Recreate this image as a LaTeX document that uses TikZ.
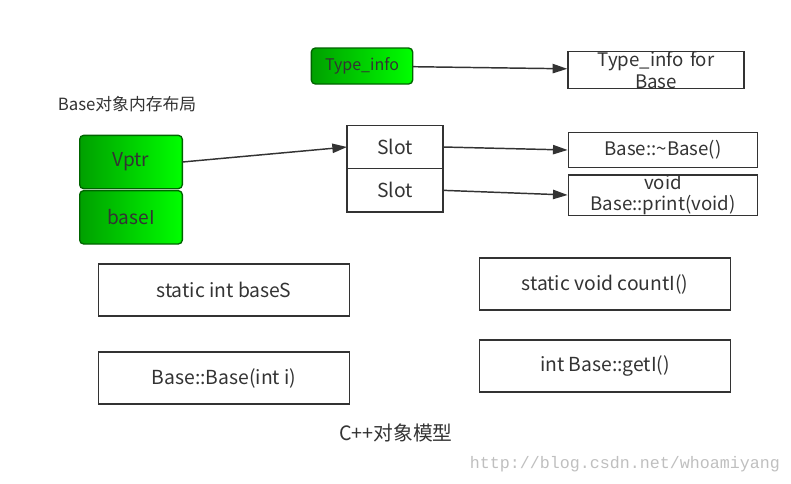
\documentclass[tikz,border=0pt]{standalone}
\usepackage{fontspec}
\setmainfont{Noto Sans CJK SC}
\newfontfamily\markfont{Liberation Mono}
\usepackage{tikz}
\usetikzlibrary{arrows.meta,positioning}
\definecolor{linegray}{RGB}{51,51,51}
\definecolor{darkgreen}{RGB}{0,160,0}
\definecolor{brightgreen}{RGB}{0,255,0}
\definecolor{greenedge}{RGB}{0,100,0}
\tikzset{
    %Define standard arrow tip
    >={Triangle[length=11pt,width=7pt]},
    %Define style for boxes
    member/.style={
           draw=linegray, line width=1.1pt, text=linegray,
           minimum width=188pt, minimum height=39pt,
           font=\fontsize{14.5}{16}\selectfont},
    % Define arrow style
    pil/.style={
           ->,
           draw=linegray,
           line width=1.1pt}
}

\begin{document}
\begin{tikzpicture}[x=0.75pt,y=-0.75pt]
	\tikzstyle{greenbox} = [draw=greenedge, line width=1pt, rounded corners=3pt,
	    left color=darkgreen, right color=brightgreen, text=linegray,
	    minimum width=77pt, minimum height=40pt, inner sep=0pt, outer sep=0pt,
	    font=\fontsize{14.3}{16}\selectfont]
	\tikzstyle{slotbox} = [draw=linegray, line width=1.1pt, text=linegray,
	    minimum width=72pt, minimum height=32.5pt, inner sep=0pt, outer sep=0pt,
	    font=\fontsize{14.5}{16}\selectfont]
	\tikzstyle{target} = [draw=linegray, line width=1.1pt, text=linegray,
	    minimum width=142pt, minimum height=26pt, inner sep=0pt,
	    text width=140pt, align=center,
	    font=\fontsize{14}{16}\selectfont]
	\useasboundingbox (0,0) rectangle (791,483);

	% Type info
	\node[greenbox, minimum width=76pt, minimum height=27pt,
	      font=\fontsize{12}{14}\selectfont] (typeinfo) at (362,66) {Type\_info};
	\node[target, minimum width=132pt, text width=130pt] (typebase) at (656,70) {Type\_info for\\ Base};
	\draw[pil] (typeinfo) -- (typebase);

	% Object layout
	\node[text=linegray, font=\fontsize{12.6}{14}\selectfont] (layout) at (127,104) {Base对象内存布局};
	\node[greenbox] (vptr) at (131,162) {Vptr};
	\node[greenbox, below=1.5pt of vptr] (basei) {baseI};

	% Virtual table
	\node[slotbox] (slot1) at (395,147) {Slot};
	\node[slotbox, below=0pt of slot1] (slot2) {Slot};
	\node[target] (dtor) at (663,150) {Base::\textasciitilde Base()};
	\node[target] (print) at (663,195) {void\\ Base::print(void)};
	\draw[pil] (vptr.east) -- (slot1.west);
	\draw[pil] (slot1.east) -- (dtor.west);
	\draw[pil] (slot2.east) -- (print.west);

	% Static members and functions
	\node[member] (bases) at (224,290) {static int baseS};
	\node[member] (ctor) at (224,378) {Base::Base(int i)};
	\node[member] (counti) at (605,284) {static void countI()};
	\node[member] (geti) at (605,366) {int Base::getI()};

	\node[text=linegray, font=\fontsize{14.8}{16}\selectfont] (title) at (396,433) {C++对象模型};
	\node[text=black!25, font=\markfont\fontsize{12.5}{14}\selectfont] (mark) at (625,464) {http://blog.csdn.net/whoamiyang};
\end{tikzpicture}
\end{document}
